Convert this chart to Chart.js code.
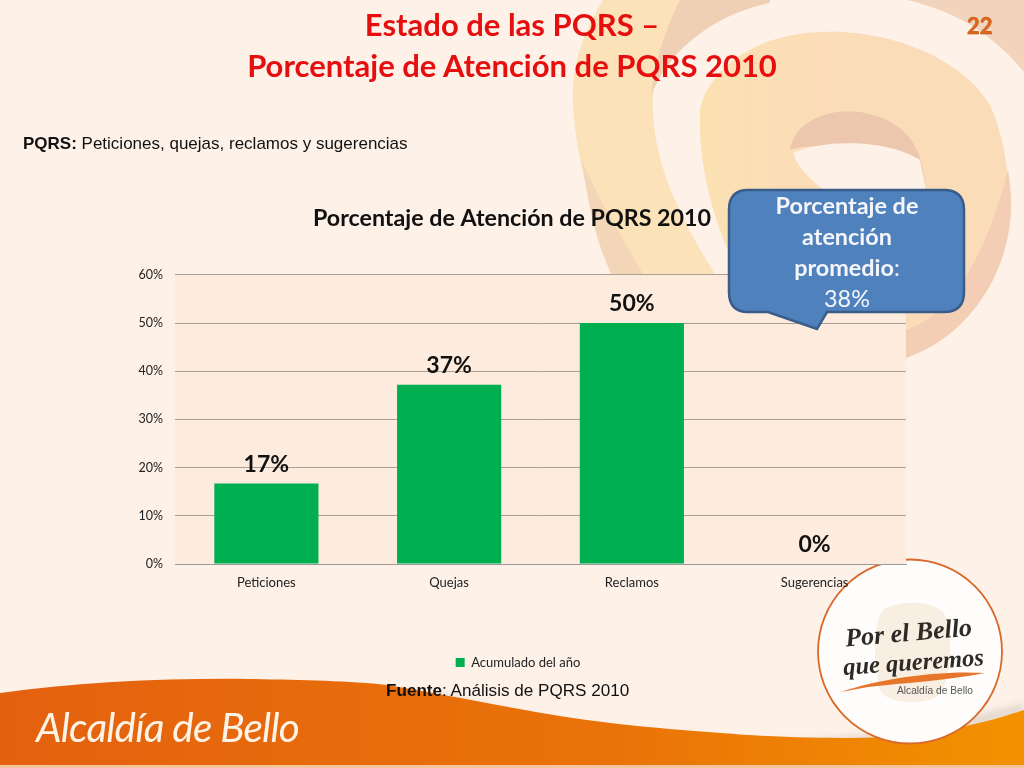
<!DOCTYPE html>
<html lang="es"><head><meta charset="utf-8">
<script src="https://cdn.jsdelivr.net/npm/chart.js@4/dist/chart.umd.min.js"></script>
<style>
html,body{margin:0;padding:0;background:#fdf1e8}
#stage{position:relative;width:1024px;height:768px;overflow:hidden;background:#fdf1e8}
#stage svg,#stage canvas{position:absolute;left:0;top:0}
.t{position:absolute;white-space:nowrap}
#h1{left:0;width:1024px;top:4px;text-align:center;color:#e60f0f;font:bold 31px/41px Lato,sans-serif}
#pg{left:967px;top:12px;color:#e0661a;font:900 22px/28px Lato,sans-serif;-webkit-text-stroke:.4px #b0521a}
#pq{left:23px;top:134px;color:#111;font:17px/19px "Liberation Sans",sans-serif}
#fu{left:386px;top:681px;color:#111;font:17.1px/20px "Liberation Sans",sans-serif}
#al{left:36px;top:702px;color:#fdf3e6;font:italic 40.5px/50px Lato,sans-serif;letter-spacing:-.8px}
#co{left:730px;top:190px;width:234px;text-align:center;color:#f4f6fb;font:23.4px/31px Lato,sans-serif}
#lg1{left:845px;top:616px;font:italic bold 26px/34px "Liberation Serif",serif;color:#2e2a26;transform:rotate(-5deg)}
#lg2{left:843px;top:647px;font:italic bold 24.5px/30px "Liberation Serif",serif;color:#2e2a26;transform:rotate(-4deg)}
#lg3{left:897px;top:684px;font:10.2px/14px "Liberation Sans",sans-serif;color:#555}
</style></head><body>
<div id="stage">
<svg width="1024" height="768" viewBox="0 0 1024 768">
 <defs>
  <linearGradient id="o" x1="0" x2="1" y1="0" y2="0"><stop offset="0" stop-color="#e4610f"/><stop offset=".6" stop-color="#ea7308"/><stop offset="1" stop-color="#f39200"/></linearGradient>
  <linearGradient id="p" gradientUnits="userSpaceOnUse" x1="700" x2="830" y1="0" y2="0"><stop offset="0" stop-color="#fbe1b2"/><stop offset="1" stop-color="#fbdcb8"/></linearGradient>
  <filter id="b" x="-5%" y="-20%" width="110%" height="140%"><feGaussianBlur stdDeviation="4"/></filter>
 </defs>
 <path d="M603 0C585 30 573 60 573 93C572 140 590 220 625 290L725 290C680 220 650 160 653 95C655 60 670 25 700 0Z" fill="#fbe2b8"/>
 <path d="M582 160C590 220 600 250 613 278L645 278C625 240 600 205 582 160Z" fill="#f3d6b8"/>
 <path d="M680 0C665 30 655 60 651 97C665 55 710 15 770 3L770 0Z" fill="#efd0b4"/>
 <path d="M907 0L1024 0L1024 72C990 30 950 10 907 0Z" fill="#f2d3bb"/>
 <path d="M700 110C705 80 740 40 807 33C880 25 960 55 990 105C1010 150 1015 210 1000 260C985 300 950 340 906 358L760 358L745 285C715 230 698 170 700 110Z" fill="url(#p)"/>
 <path d="M1008 170C1015 210 1010 245 993 280C975 315 945 345 906 358L906 330C950 315 985 260 1008 170Z" fill="#f3ceb4"/>
 <path d="M790 150C795 120 830 108 860 112C895 118 915 135 922 165L927 195L870 195C860 170 830 135 790 150Z" fill="#ecc7ae"/>
 <path d="M793 153C825 138 890 140 920 160L927 195L830 195C810 180 798 168 793 153Z" fill="#fdf1e8"/>
 <path d="M440 703C520 722 600 745 690 750C800 752 900 748 1024 712" fill="none" stroke="#8a8078" stroke-width="7" opacity=".35" filter="url(#b)" transform="translate(0,-4)"/>
 <path d="M0 768L0 693C80 682 170 678 250 679C300 680 350 681 387 685C430 692 480 702 525 710C590 722 650 728 721 733C770 737 810 738 852 738C920 738 980 725 1024 710L1024 768Z" fill="url(#o)"/>
 <rect x="0" y="765" width="1024" height="3" fill="#f6c39a"/>
 <circle cx="910" cy="651.5" r="92" fill="#fffdfb" stroke="#d9692a" stroke-width="1.8"/>
 <path d="M885 608C905 600 935 600 945 615C955 640 950 690 935 698C915 706 885 702 880 690C873 660 872 620 885 608Z" fill="#f9eee2"/>
 <path d="M841 692C875 680 935 670 985 673C950 680 905 683 868 687Z" fill="#e8762a"/>
</svg>
<canvas id="c" width="1024" height="768"></canvas>
<svg width="1024" height="768" viewBox="0 0 1024 768">
 <path d="M748 190H944Q964 190 964 210V292Q964 312 944 312H827L817 329L768 312H748Q729 312 729 292V210Q729 190 748 190Z" fill="#4f81bd" stroke="#385d8a" stroke-width="2.5"/>
</svg>
<div class="t" id="h1">Estado de las PQRS –<br>Porcentaje de Atención de PQRS 2010</div>
<div class="t" id="pg">22</div>
<div class="t" id="pq"><b>PQRS:</b> Peticiones, quejas, reclamos y sugerencias</div>
<div class="t" id="fu"><b>Fuente</b>: Análisis de PQRS 2010</div>
<div class="t" id="al">Alcaldía de Bello</div>
<div class="t" id="co"><b>Porcentaje de<br>atención<br>promedio</b>:<br>38%</div>
<div class="t" id="lg1">Por el Bello</div>
<div class="t" id="lg2">que queremos</div>
<div class="t" id="lg3">Alcaldía de Bello</div>
</div>
<script>
const categories = ["Peticiones", "Quejas", "Reclamos", "Sugerencias"];
const values = [0.167, 0.372, 0.50, 0];
const valueLabels = ["17%", "37%", "50%", "0%"];
const seriesName = "Acumulado del año";
const chartTitle = "Porcentaje de Atención de PQRS 2010";

const plotBg = {id:"plotBg",beforeDraw(ch){const a=ch.chartArea,x=ch.ctx;x.save();x.fillStyle="#fdebdd";x.fillRect(a.left,a.top,a.right-a.left,a.bottom-a.top);x.restore();}};
const barLabels = {id:"barLabels",afterDatasetsDraw(ch){const x=ch.ctx,m=ch.getDatasetMeta(0);x.save();x.fillStyle="#111";x.font="bold 23px Lato, sans-serif";x.textAlign="center";x.textBaseline="alphabetic";
 m.data.forEach((b,i)=>x.fillText(valueLabels[i],b.x,b.y-12));x.restore();}};
const legendShift = {id:"legendShift",afterLayout(ch){ch.legend.left+=12;}};

Chart.defaults.font.family = "Lato, sans-serif";
new Chart(document.getElementById("c"),{
 type:"bar",
 data:{labels:categories,datasets:[{label:seriesName,data:values,backgroundColor:"#00b050",categoryPercentage:1,barPercentage:.57,yAxisID:"y"}]},
 options:{responsive:false,animation:false,devicePixelRatio:1,
  layout:{padding:{top:205,left:0,right:0,bottom:89}},
  plugins:{
   title:{display:true,text:chartTitle,color:"#111",font:{size:23.25,weight:"bold"},padding:{top:0,bottom:42}},
   legend:{display:true,position:"bottom",labels:{color:"#222",font:{size:13},boxWidth:9,boxHeight:9,padding:0}},
   tooltip:{enabled:false}
  },
  scales:{
   x:{grid:{display:false},border:{color:"#9a9a9a"},ticks:{color:"#222",font:{size:13},padding:3,maxRotation:0},afterFit(s){s.height=92;}},
   y:{min:0,max:0.6,grid:{color:"#a99f95",drawTicks:false},border:{display:false},
      ticks:{stepSize:0.1,color:"#222",font:{size:12.5},padding:12,callback:v=>Math.round(v*100)+"%"},afterFit(s){s.width=175;}},
   y2:{position:"right",min:0,max:0.6,grid:{display:false},border:{display:false},ticks:{display:false},afterFit(s){s.width=118;}}
  }
 },
 plugins:[plotBg,barLabels,legendShift]
});
</script>
</body></html>
